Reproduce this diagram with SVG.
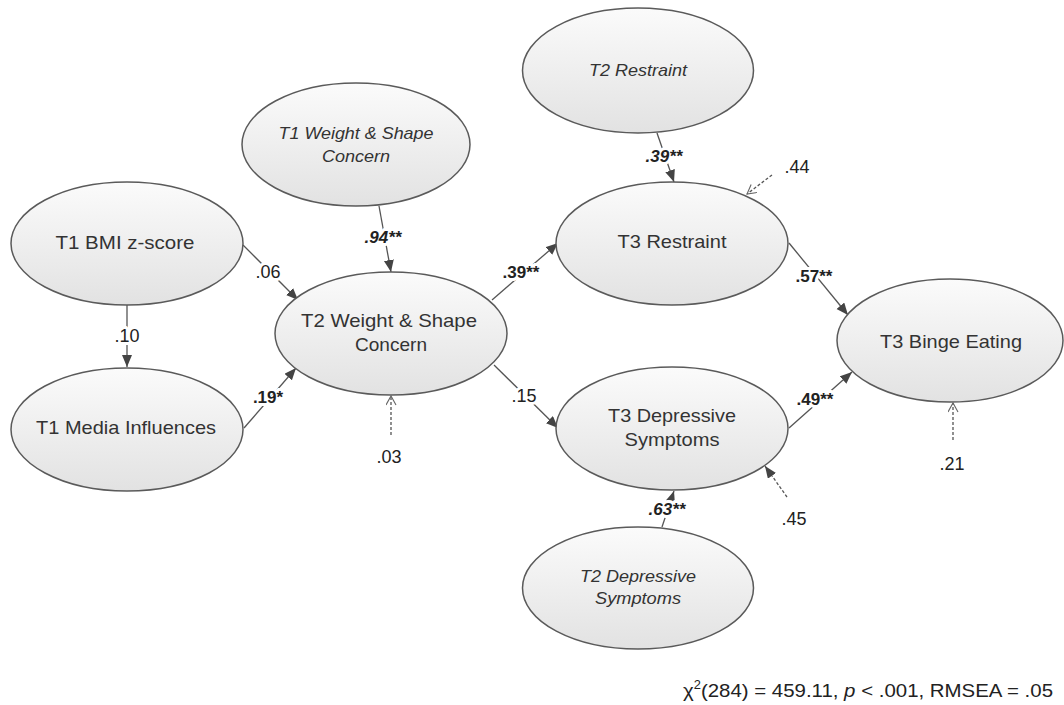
<svg xmlns="http://www.w3.org/2000/svg" width="1064" height="705" viewBox="0 0 1064 705">
<defs>
<linearGradient id="g" x1="0" y1="0" x2="0" y2="1">
<stop offset="0" stop-color="#fbfbfb"/>
<stop offset="1" stop-color="#e2e2e2"/>
</linearGradient>
<marker id="af" markerUnits="userSpaceOnUse" markerWidth="13" markerHeight="11" refX="12" refY="5" orient="auto">
<path d="M0,0 L12,5 L0,10 z" fill="#444" stroke="none"/>
</marker>
<marker id="ao" markerUnits="userSpaceOnUse" markerWidth="12" markerHeight="12" refX="10" refY="5" orient="auto">
<path d="M1,0 L10,5 L1,10" fill="none" stroke="#666" stroke-width="1.1"/>
</marker>
</defs>
<style>
.n{fill:url(#g);stroke:#5a5a5a;stroke-width:1.5}
.t{font-family:"Liberation Sans",Arial,sans-serif;font-size:19px;fill:#333;text-anchor:middle}
.i{font-style:italic;font-size:17px}
.c{stroke:#555;stroke-width:1.3;fill:none;marker-end:url(#af)}
.d{stroke:#555;stroke-width:1.3;fill:none;stroke-dasharray:3 2}
.l{font-family:"Liberation Sans",Arial,sans-serif;font-size:18px;fill:#222;text-anchor:middle;stroke:#fff;stroke-width:6;paint-order:stroke;stroke-linejoin:round}
.b{font-weight:bold;font-size:17px}
.bi{font-weight:bold;font-style:italic;font-size:17px}
</style>
<rect width="1064" height="705" fill="#fff"/>
<g id="connectors">
<line class="c" x1="243" y1="245" x2="298" y2="300"/>
<line class="c" x1="127" y1="305" x2="127" y2="367"/>
<line class="c" x1="244" y1="428" x2="296" y2="368"/>
<line class="c" x1="379" y1="206" x2="391" y2="272"/>
<line class="d" x1="391" y1="435" x2="391" y2="396" marker-end="url(#ao)"/>
<line class="c" x1="492" y1="300" x2="558" y2="243"/>
<line class="c" x1="494" y1="365" x2="558" y2="428"/>
<line class="c" x1="657" y1="133" x2="674" y2="182"/>
<line class="d" x1="772" y1="175" x2="747" y2="194" marker-end="url(#ao)"/>
<line class="c" x1="789" y1="243" x2="848" y2="315"/>
<line class="c" x1="789" y1="428" x2="852" y2="372"/>
<line class="c" x1="662" y1="527" x2="674" y2="491"/>
<line class="d" x1="787" y1="497" x2="765" y2="466" marker-end="url(#af)"/>
<line class="d" x1="953" y1="440" x2="953" y2="403" marker-end="url(#ao)"/>
<text class="l" x="268" y="278">.06</text>
<text class="l" x="127" y="342">.10</text>
<text class="l b" x="268" y="403">.19*</text>
<text class="l bi" x="383" y="243">.94**</text>
<text class="l" x="389" y="463">.03</text>
<text class="l b" x="521" y="278">.39**</text>
<text class="l" x="524" y="402">.15</text>
<text class="l bi" x="664" y="162">.39**</text>
<text class="l" x="797" y="173">.44</text>
<text class="l b" x="814" y="282">.57**</text>
<text class="l b" x="815" y="405">.49**</text>
<text class="l bi" x="667" y="515">.63**</text>
<text class="l" x="794" y="525">.45</text>
<text class="l" x="952" y="470">.21</text>
</g>
<g id="bmi">
<ellipse class="n" cx="127" cy="243.5" rx="116" ry="61.5"/>
<text class="t" x="125" y="249" textLength="139" lengthAdjust="spacingAndGlyphs">T1 BMI z-score</text>
</g>
<g id="media">
<ellipse class="n" cx="127" cy="429.5" rx="116" ry="61.5"/>
<text class="t" x="126" y="434" textLength="180" lengthAdjust="spacingAndGlyphs">T1 Media Influences</text>
</g>
<g id="t1wsc">
<ellipse class="n" cx="356" cy="144.5" rx="114" ry="61.5"/>
<text class="t i" x="356" y="139" textLength="155" lengthAdjust="spacingAndGlyphs">T1 Weight &amp; Shape</text>
<text class="t i" x="356" y="162" textLength="68" lengthAdjust="spacingAndGlyphs">Concern</text>
</g>
<g id="t2wsc">
<ellipse class="n" cx="391" cy="333.5" rx="116" ry="61.5"/>
<text class="t" x="389" y="327" textLength="176" lengthAdjust="spacingAndGlyphs">T2 Weight &amp; Shape</text>
<text class="t" x="391" y="351" textLength="72" lengthAdjust="spacingAndGlyphs">Concern</text>
</g>
<g id="t2r">
<ellipse class="n" cx="638" cy="70.5" rx="115.5" ry="62.5"/>
<text class="t i" x="638" y="76" textLength="98" lengthAdjust="spacingAndGlyphs">T2 Restraint</text>
</g>
<g id="t3r">
<ellipse class="n" cx="672" cy="243.5" rx="116" ry="61.5"/>
<text class="t" x="672" y="248" textLength="109" lengthAdjust="spacingAndGlyphs">T3 Restraint</text>
</g>
<g id="binge">
<ellipse class="n" cx="950" cy="340.5" rx="113" ry="61.5"/>
<text class="t" x="951" y="348" textLength="142" lengthAdjust="spacingAndGlyphs">T3 Binge Eating</text>
</g>
<g id="t3dep">
<ellipse class="n" cx="672" cy="428.5" rx="116" ry="61.5"/>
<text class="t" x="672" y="422" textLength="128" lengthAdjust="spacingAndGlyphs">T3 Depressive</text>
<text class="t" x="672" y="446" textLength="95" lengthAdjust="spacingAndGlyphs">Symptoms</text>
</g>
<g id="t2dep">
<ellipse class="n" cx="638" cy="588" rx="115.5" ry="61"/>
<text class="t i" x="638" y="582" textLength="116" lengthAdjust="spacingAndGlyphs">T2 Depressive</text>
<text class="t i" x="638" y="604" textLength="86" lengthAdjust="spacingAndGlyphs">Symptoms</text>
</g>
<text x="683" y="697" font-family="'Liberation Sans',Arial,sans-serif" font-size="19" fill="#222" textLength="370" lengthAdjust="spacingAndGlyphs">χ<tspan dy="-8" font-size="12">2</tspan><tspan dy="8">(284) = 459.11, </tspan><tspan font-style="italic">p</tspan> &lt; .001, RMSEA = .05</text>
</svg>
